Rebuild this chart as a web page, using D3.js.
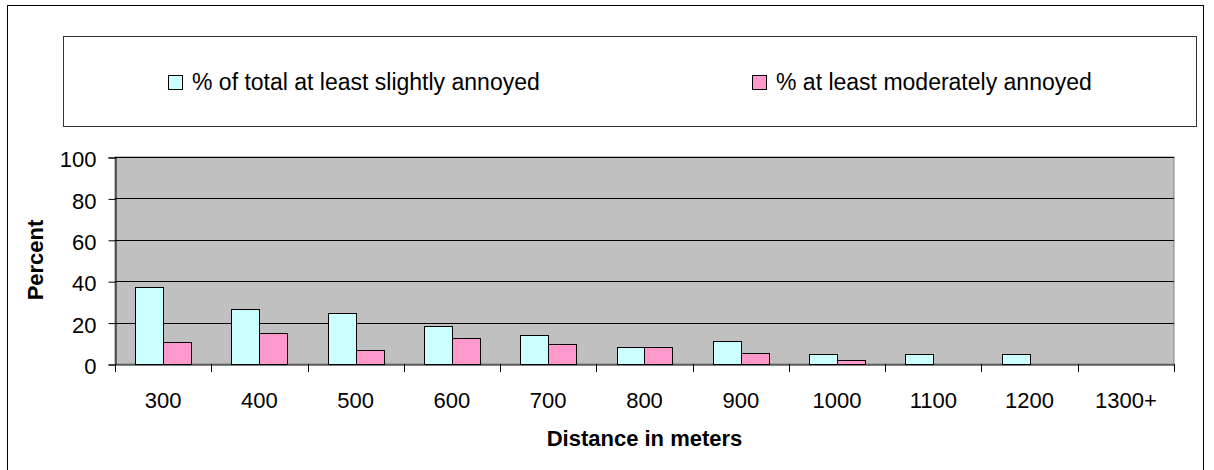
<!DOCTYPE html>
<html>
<head>
<meta charset="utf-8">
<script src="https://cdn.jsdelivr.net/npm/d3@7"></script>
<style>
  body { margin: 0; background: #fff; }
  text { font-family: Arial, "Liberation Sans", sans-serif; }
</style>
</head>
<body>
<div id="root"></div>
<script>
const categories = ['300', '400', '500', '600', '700', '800', '900', '1000', '1100', '1200', '1300+'];
const seriesNames = ['% of total at least slightly annoyed', '% at least moderately annoyed'];
const slightly = [37, 26.7, 24.6, 18.5, 14.2, 8.1, 11.1, 4.7, 4.7, 4.7, 0];
const moderately = [10.6, 15.1, 6.9, 12.6, 9.5, 8.1, 5.5, 2.1, 0, 0, 0];
const yTicks = [0, 20, 40, 60, 80, 100];
const colors = ['#ccffff', '#ff99cc'];

const W = 1214, H = 470;
const plot = { left: 115, top: 157, right: 1174, bottom: 364 };
const fontSize = '22px';

const svg = d3.select('#root').append('svg')
  .attr('width', W)
  .attr('height', H);

// outer chart frame (bottom edge runs off the picture)
svg.append('rect')
  .attr('x', 7.5).attr('y', 5.5)
  .attr('width', 1196).attr('height', 480)
  .attr('fill', '#fff')
  .attr('stroke', '#000');

// legend box
const legend = svg.append('g');
legend.append('rect')
  .attr('x', 63.5).attr('y', 36.5)
  .attr('width', 1133).attr('height', 90)
  .attr('fill', '#fff')
  .attr('stroke', '#333');

const legendX = [168, 752];
seriesNames.forEach((name, i) => {
  legend.append('rect')
    .attr('x', legendX[i] + 0.5).attr('y', 75.5)
    .attr('width', 14).attr('height', 14)
    .attr('fill', colors[i])
    .attr('stroke', '#000');
  legend.append('text')
    .attr('x', legendX[i] + 24).attr('y', 90)
    .attr('font-size', '23px')
    .text(name);
});

// scales
const x = d3.scaleBand()
  .domain(categories)
  .range([plot.left, plot.right])
  .padding(0);

const xInner = d3.scaleBand()
  .domain([0, 1])
  .range([0, x.bandwidth()])
  .paddingInner(0)
  .paddingOuter(0.72);

const y = d3.scaleLinear()
  .domain([0, 100])
  .range([plot.bottom, plot.top]);

// plot area
svg.append('rect')
  .attr('x', plot.left).attr('y', plot.top)
  .attr('width', plot.right - plot.left)
  .attr('height', plot.bottom - plot.top)
  .attr('fill', '#c0c0c0')
  .attr('stroke', '#808080');

// gridlines
svg.append('g').selectAll('line').data(yTicks.filter(t => t > 0))
  .enter().append('line')
    .attr('x1', plot.left).attr('x2', plot.right)
    .attr('y1', d => Math.round(y(d)) + 0.5)
    .attr('y2', d => Math.round(y(d)) + 0.5)
    .attr('stroke', '#000');

// bars
[slightly, moderately].forEach((vals, s) => {
  const rows = categories.map((c, i) => ({ cat: c, value: vals[i] }))
    .filter(d => d.value > 0);
  svg.append('g').selectAll('rect').data(rows)
    .enter().append('rect')
      .attr('x', d => Math.round(x(d.cat) + xInner(s)) + 0.5)
      .attr('y', d => Math.round(y(d.value)) + 0.5)
      .attr('width', Math.round(xInner.bandwidth()))
      .attr('height', d => Math.round(y(0)) - Math.round(y(d.value)))
      .attr('fill', colors[s])
      .attr('stroke', '#000');
});

// y axis
const yAxis = d3.axisLeft(y)
  .tickValues(yTicks)
  .tickSize(7)
  .tickPadding(12);

const gy = svg.append('g')
  .attr('transform', `translate(${plot.left + 0.5}, 0.5)`)
  .call(yAxis);
gy.select('.domain').attr('stroke', '#000');
gy.selectAll('text')
  .attr('font-size', fontSize)
  .attr('font-family', 'Arial, "Liberation Sans", sans-serif')
  .attr('fill', '#000')
  .attr('dy', '0.42em');

// x axis: labels at centers, ticks at category boundaries
const xAxis = d3.axisBottom(x)
  .tickSize(0)
  .tickPadding(0);

const gx = svg.append('g')
  .attr('transform', `translate(0, ${plot.bottom + 0.5})`)
  .call(xAxis);
gx.select('.domain').attr('stroke', '#000');
gx.selectAll('text')
  .attr('font-size', fontSize)
  .attr('font-family', 'Arial, "Liberation Sans", sans-serif')
  .attr('fill', '#000')
  .attr('dy', '43px');

const bounds = categories.map(c => x(c)).concat([x.range()[1]]);
svg.append('g').selectAll('line').data(bounds)
  .enter().append('line')
    .attr('x1', d => Math.round(d) + 0.5)
    .attr('x2', d => Math.round(d) + 0.5)
    .attr('y1', plot.bottom)
    .attr('y2', plot.bottom + 8)
    .attr('stroke', '#000');

// axis titles
svg.append('text')
  .attr('x', (plot.left + plot.right) / 2)
  .attr('y', 446)
  .attr('font-size', fontSize)
  .attr('font-weight', 'bold')
  .attr('text-anchor', 'middle')
  .text('Distance in meters');

svg.append('text')
  .attr('transform', 'translate(43, 260) rotate(-90)')
  .attr('font-size', fontSize)
  .attr('font-weight', 'bold')
  .attr('text-anchor', 'middle')
  .text('Percent');
</script>
</body>
</html>
